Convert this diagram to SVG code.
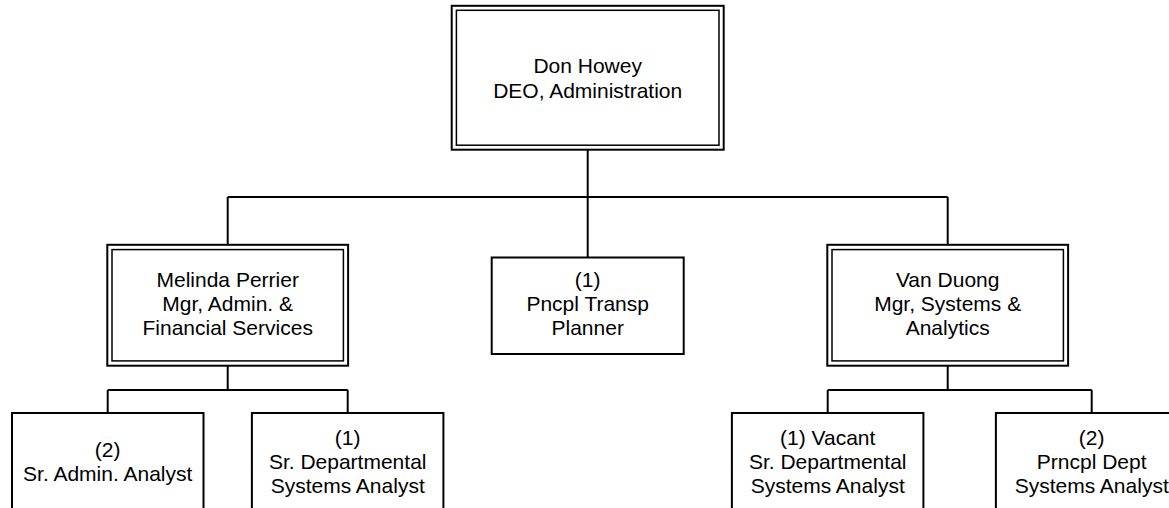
<svg xmlns="http://www.w3.org/2000/svg" width="1169" height="508" viewBox="0 0 1169 508">
<style>
.box{fill:#fff;stroke:#000;stroke-width:2}
.outer{fill:#fff;stroke:#000;stroke-width:2}
.inner{fill:none;stroke:#000;stroke-width:1.5}
.conn{fill:none;stroke:#000;stroke-width:2}
text{font-family:"Liberation Sans",Arial,sans-serif;font-size:21px;fill:#000;text-anchor:middle}
</style>
<rect width="1169" height="508" fill="#fff"/>
<g id="connectors">
<path class="conn" d="M587.7,150 V197 M227.7,197 H947.7 M227.7,197 V245 M587.7,197 V258 M947.7,197 V245"/>
<path class="conn" d="M227.7,366 V390 M107.7,390 H347.7 M107.7,390 V413 M347.7,390 V413"/>
<path class="conn" d="M947.7,366 V390 M827.7,390 H1091.7 M827.7,390 V413 M1091.7,390 V413"/>
</g>
<g id="don-howey">
<rect class="outer" x="451.7" y="5.8" width="272" height="143.9"/>
<rect class="inner" x="456.4" y="10.3" width="262.6" height="134.9"/>
<text x="587.7" y="73">Don Howey</text>
<text x="587.7" y="97.5">DEO, Administration</text>
</g>
<g id="melinda-perrier">
<rect class="outer" x="107.3" y="244.8" width="240.8" height="120.9"/>
<rect class="inner" x="112" y="249.6" width="231.4" height="111.3"/>
<text x="227.7" y="287">Melinda Perrier</text>
<text x="227.7" y="311">Mgr, Admin. &amp;</text>
<text x="227.7" y="335">Financial Services</text>
</g>
<g id="pncpl-transp-planner">
<rect class="box" x="491.7" y="257.5" width="192" height="96.5"/>
<text x="587.7" y="287">(1)</text>
<text x="587.7" y="311">Pncpl Transp</text>
<text x="587.7" y="335">Planner</text>
</g>
<g id="van-duong">
<rect class="outer" x="827.3" y="244.8" width="240.8" height="120.9"/>
<rect class="inner" x="832" y="249.6" width="231.4" height="111.3"/>
<text x="947.7" y="287">Van Duong</text>
<text x="947.7" y="311">Mgr, Systems &amp;</text>
<text x="947.7" y="335">Analytics</text>
</g>
<g id="sr-admin-analyst">
<rect class="box" x="12" y="413" width="191.5" height="100"/>
<text x="107.7" y="457">(2)</text>
<text x="107.7" y="481">Sr. Admin. Analyst</text>
</g>
<g id="sr-dept-systems-analyst">
<rect class="box" x="251.9" y="413" width="191.5" height="100"/>
<text x="347.7" y="445">(1)</text>
<text x="347.7" y="469">Sr. Departmental</text>
<text x="347.7" y="493">Systems Analyst</text>
</g>
<g id="vacant-sr-dept-systems-analyst">
<rect class="box" x="731.9" y="413" width="191.5" height="100"/>
<text x="827.7" y="445">(1) Vacant</text>
<text x="827.7" y="469">Sr. Departmental</text>
<text x="827.7" y="493">Systems Analyst</text>
</g>
<g id="prncpl-dept-systems-analyst">
<rect class="box" x="995.9" y="413" width="191.5" height="100"/>
<text x="1091.7" y="445">(2)</text>
<text x="1091.7" y="469">Prncpl Dept</text>
<text x="1091.7" y="493">Systems Analyst</text>
</g>
</svg>
